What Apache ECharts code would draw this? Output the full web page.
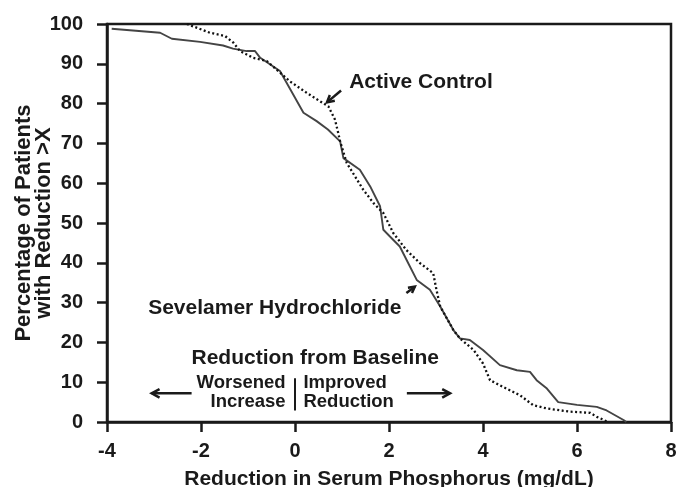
<!DOCTYPE html>
<html>
<head>
<meta charset="utf-8">
<script src="https://cdn.jsdelivr.net/npm/echarts@6/dist/echarts.min.js"></script>
<style>
  html, body { margin: 0; padding: 0; background: #fff; }
  #chart { width: 676px; height: 487px; }
</style>
</head>
<body>
<div id="chart"></div>
<script>
// Reduction in serum phosphorus (mg/dL) vs. % of patients with reduction > X
const sevelamerX = [-3.9, -2.87, -2.62, -2.02, -1.53, -1.32, -1.03, -0.85, -0.74, -0.32, -0.14, 0.18, 0.46, 0.7, 0.96, 1.03, 1.38, 1.6, 1.81, 1.88, 2.02, 2.23, 2.41, 2.59, 2.87, 3.09, 3.37, 3.51, 3.72, 4.0, 4.36, 4.72, 5.0, 5.14, 5.36, 5.6, 6.0, 6.42, 6.63, 6.99, 7.05];
const sevelamerY = [98.8, 97.8, 96.3, 95.5, 94.6, 93.8, 93.2, 93.2, 91.5, 88.2, 84.4, 77.7, 75.6, 73.5, 70.5, 66.3, 63.4, 59.2, 54.2, 48.3, 46.6, 44.1, 39.9, 35.7, 33.2, 29.0, 23.1, 21.0, 20.6, 18.1, 14.3, 13.0, 12.6, 10.5, 8.4, 5.0, 4.3, 3.8, 2.9, 0.5, 0];

const activeX = [-2.3, -1.81, -1.49, -1.31, -1.17, -0.89, -0.6, -0.32, -0.11, 0.25, 0.53, 0.71, 0.85, 0.92, 0.96, 1.1, 1.45, 1.67, 1.88, 2.09, 2.37, 2.66, 2.94, 3.01, 3.09, 3.37, 3.51, 3.8, 4.0, 4.15, 4.43, 4.79, 5.07, 5.36, 5.85, 6.28, 6.42, 6.56, 6.65];
const activeY = [100, 97.8, 97.0, 95.3, 93.2, 91.5, 90.7, 87.8, 85.6, 82.7, 80.6, 79.3, 76.0, 72.6, 70.5, 65.1, 58.4, 55.0, 52.5, 47.5, 43.2, 39.9, 37.4, 33.2, 29.0, 23.1, 21.0, 18.1, 14.7, 10.5, 8.8, 6.7, 4.2, 3.4, 2.6, 2.3, 1.3, 0.6, 0];

const xTicks = { min: -4, max: 8, step: 2 };
const yTicks = { min: 0, max: 100, step: 10 };

const FONT = '"Liberation Sans", Arial, Helvetica, sans-serif';
const INK = '#1a1a1a';

const zip = (xs, ys) => xs.map((x, i) => [x, ys[i]]);

const chart = echarts.init(document.getElementById('chart'), null, { renderer: 'canvas' });

const axisCommon = {
  axisLine: { show: true, onZero: false, lineStyle: { color: INK, width: 2.5 } },
  axisTick: { show: true, length: 10, lineStyle: { color: INK, width: 2.5 } },
  splitLine: { show: false },
  nameMoveOverlap: false,
  axisLabel: { color: INK, fontFamily: FONT, fontWeight: 'bold', fontSize: 20 }
};

chart.setOption({
  animation: false,
  backgroundColor: '#fff',
  grid: {
    left: 107, right: 5, top: 24, bottom: 65,
    containLabel: false, outerBoundsMode: 'none',
    show: true, borderColor: INK, borderWidth: 2.5
  },
  xAxis: Object.assign({}, axisCommon, {
    type: 'value',
    min: xTicks.min, max: xTicks.max, interval: xTicks.step,
    axisLabel: Object.assign({}, axisCommon.axisLabel, { margin: 19 }),
    name: 'Reduction in Serum Phosphorus (mg/dL)',
    nameLocation: 'middle', nameGap: 47,
    nameTextStyle: { color: INK, fontFamily: FONT, fontWeight: 'bold', fontSize: 21 }
  }),
  yAxis: Object.assign({}, axisCommon, {
    type: 'value',
    min: yTicks.min, max: yTicks.max, interval: yTicks.step,
    axisLabel: Object.assign({}, axisCommon.axisLabel, { margin: 24 }),
    name: 'Percentage of Patients\nwith Reduction >X',
    nameLocation: 'middle', nameGap: 53,
    nameTextStyle: { color: INK, fontFamily: FONT, fontWeight: 'bold', fontSize: 22, lineHeight: 20 }
  }),
  series: [
    {
      name: 'Sevelamer Hydrochloride',
      type: 'line',
      data: zip(sevelamerX, sevelamerY),
      showSymbol: false,
      lineStyle: { color: '#444', width: 1.9 },
      z: 3
    },
    {
      name: 'Active Control',
      type: 'line',
      data: zip(activeX, activeY),
      showSymbol: false,
      lineStyle: { color: '#111', width: 2.3, type: [2, 2.5] },
      z: 4
    }
  ]
});

// Annotations placed in data coordinates
const px = (x, y) => chart.convertToPixel({ gridIndex: 0 }, [x, y]);

function label(text, x, y, size, align) {
  const p = px(x, y);
  return {
    type: 'text', x: p[0], y: p[1], z: 10,
    style: {
      text, fill: INK, font: 'bold ' + size + 'px ' + FONT,
      align: align || 'center', verticalAlign: 'middle'
    }
  };
}

function arrow(x1, y1, x2, y2, width, head) {
  const a = px(x1, y1), b = px(x2, y2);
  const ang = Math.atan2(b[1] - a[1], b[0] - a[0]);
  const h = head, s = 0.5;
  const l = [b[0] - h * Math.cos(ang - s), b[1] - h * Math.sin(ang - s)];
  const r = [b[0] - h * Math.cos(ang + s), b[1] - h * Math.sin(ang + s)];
  return [
    { type: 'line', z: 10, shape: { x1: a[0], y1: a[1], x2: b[0], y2: b[1] },
      style: { stroke: INK, lineWidth: width } },
    { type: 'polyline', z: 10, shape: { points: [l, b, r] },
      style: { stroke: INK, lineWidth: width, fill: null } }
  ];
}

const graphics = [
  label('Active Control', 2.68, 85.3, 21),
  ...arrow(0.98, 83.3, 0.68, 80.3, 2.5, 8),
  label('Sevelamer Hydrochloride', -0.43, 28.6, 21),
  ...arrow(2.37, 32.4, 2.55, 34.0, 2.5, 7),
  label('Reduction from Baseline', 0.43, 16.0, 21),
  label('Worsened', -0.2, 9.75, 18.5, 'right'),
  label('Increase', -0.2, 5.0, 18.5, 'right'),
  label('Improved', 0.18, 9.75, 18.5, 'left'),
  label('Reduction', 0.18, 5.0, 18.5, 'left'),
  ...arrow(-2.2, 7.2, -3.05, 7.2, 2.5, 9),
  ...arrow(2.38, 7.2, 3.3, 7.2, 2.5, 9)
];
const b1 = px(0.0, 11.0), b2 = px(0.0, 2.9);
graphics.push({ type: 'line', z: 10, shape: { x1: b1[0], y1: b1[1], x2: b2[0], y2: b2[1] },
  style: { stroke: INK, lineWidth: 2 } });

chart.setOption({ graphic: graphics });
</script>
</body>
</html>
